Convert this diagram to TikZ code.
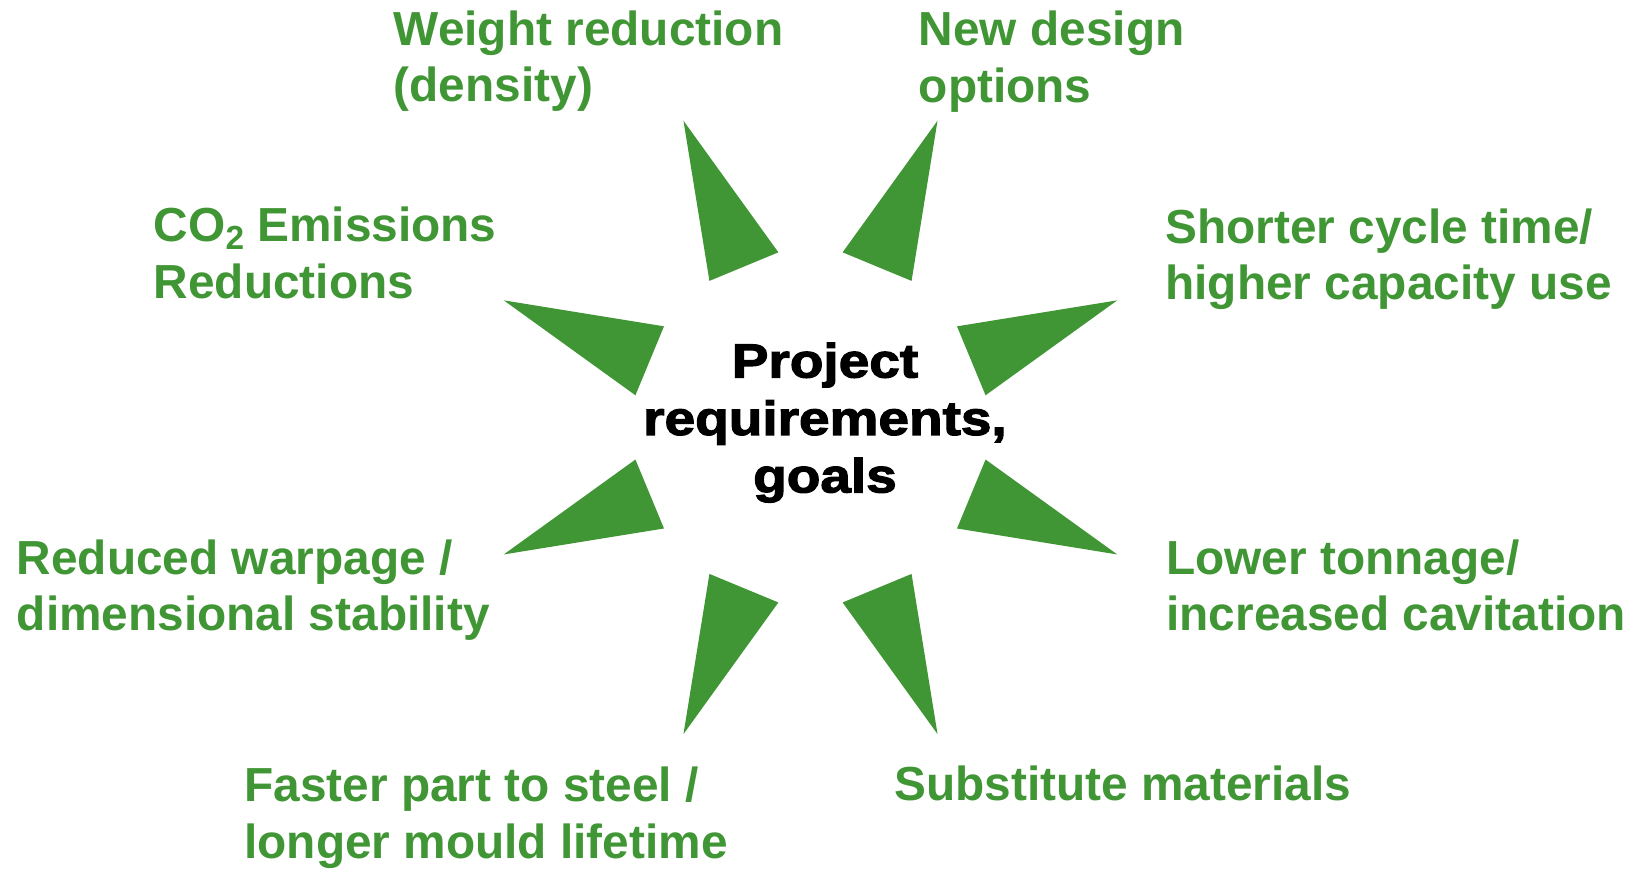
\documentclass[tikz,border=0pt]{standalone}
\usepackage{fontspec}
\setmainfont{Liberation Sans}
\newfontfamily\blackfont{Liberation Sans Bold}[FakeBold=2.5,FakeStretch=1.15]
\usepackage{xcolor}
\usepackage{tikz}

\definecolor{verde}{RGB}{64,150,52}

\begin{document}
\begin{tikzpicture}[
  punta/.style={fill=verde},
  obiettivo/.style={anchor=base west, inner sep=0pt, align=left, text=verde,
    font=\fontsize{27.2}{32.3}\selectfont\bfseries}
]
\useasboundingbox (-16.21,-8.852) rectangle (16.61,8.548);

% punte della stella
\fill[punta] (22.5:6.64) -- (10.4:3.56) -- (34.6:3.56) -- cycle;
\fill[punta] (67.5:6.64) -- (55.4:3.56) -- (79.6:3.56) -- cycle;
\fill[punta] (112.5:6.64) -- (100.4:3.56) -- (124.6:3.56) -- cycle;
\fill[punta] (157.5:6.64) -- (145.4:3.56) -- (169.6:3.56) -- cycle;
\fill[punta] (202.5:6.64) -- (190.4:3.56) -- (214.6:3.56) -- cycle;
\fill[punta] (247.5:6.64) -- (235.4:3.56) -- (259.6:3.56) -- cycle;
\fill[punta] (292.5:6.64) -- (280.4:3.56) -- (304.6:3.56) -- cycle;
\fill[punta] (337.5:6.64) -- (325.4:3.56) -- (349.6:3.56) -- cycle;

% testo centrale (ancorato all'ultima riga)
\node (centro) at (0.29,-1.30) [anchor=base, align=center, inner sep=0pt,
  font=\blackfont\fontsize{27.2}{32.7}\selectfont] {Project\\requirements,\\goals};

% obiettivi intorno
\node (peso) at (-8.34,6.51) [obiettivo] {Weight reduction\\(density)};
\node (design) at (2.16,6.50) [obiettivo] {New design\\options};
\node (ciclo) at (7.09,2.55) [obiettivo] {Shorter cycle time/\\higher capacity use};
\node (tonnellaggio) at (7.11,-4.07) [obiettivo] {Lower tonnage/\\increased cavitation};
\node (materiali) at (1.67,-7.47) [obiettivo] {Substitute materials};
\node (acciaio) at (-11.33,-8.62) [obiettivo] {Faster part to steel /\\longer mould lifetime};
\node (deformazione) at (-15.88,-4.07) [obiettivo] {Reduced warpage /\\dimensional stability};
\node (emissioni) at (-13.14,2.58) [obiettivo] {CO\raisebox{-0.3ex}{\fontsize{19}{19}\selectfont 2} Emissions\\Reductions};
\end{tikzpicture}
\end{document}
